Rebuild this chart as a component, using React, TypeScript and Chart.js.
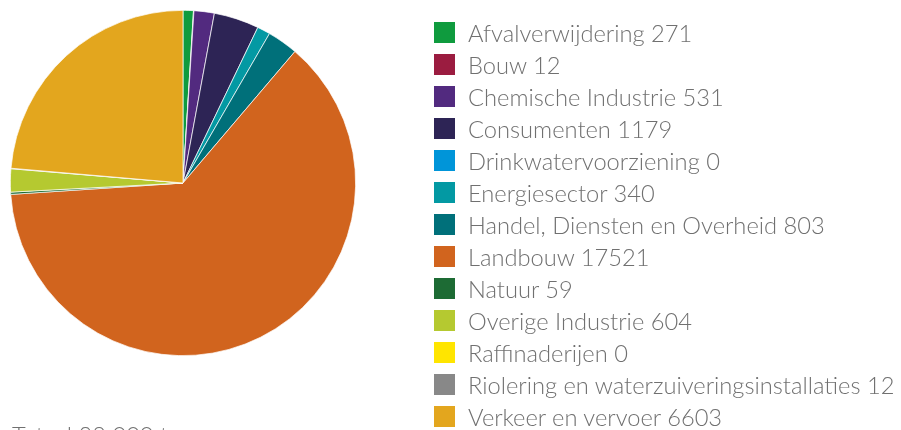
import React, { useEffect, useRef } from "react";
import { Chart, registerables } from "chart.js";

Chart.register(...registerables);

const categories = [
  "Afvalverwijdering",
  "Bouw",
  "Chemische Industrie",
  "Consumenten",
  "Drinkwatervoorziening",
  "Energiesector",
  "Handel, Diensten en Overheid",
  "Landbouw",
  "Natuur",
  "Overige Industrie",
  "Raffinaderijen",
  "Riolering en waterzuiveringsinstallaties",
  "Verkeer en vervoer",
];

const values = [271, 12, 531, 1179, 0, 340, 803, 17521, 59, 604, 0, 12, 6603];

const colors = [
  "#0f9b3e",
  "#9b1c40",
  "#522a7f",
  "#2d2455",
  "#0095d9",
  "#0399a3",
  "#00707a",
  "#d1641e",
  "#1d6b34",
  "#b5c930",
  "#ffe500",
  "#888888",
  "#e3a61e",
];

const totalLabel = "Totaal 28 000 ton";

const FONT = "Lato, 'Open Sans', sans-serif";
const TEXT_COLOR = "#707070";

export default function App() {
  const ref = useRef<HTMLCanvasElement | null>(null);

  useEffect(() => {
    document.body.style.margin = "0";
    const ctx = ref.current!.getContext("2d")!;
    const chart = new Chart(ctx, {
      type: "pie",
      data: {
        labels: categories,
        datasets: [
          {
            data: values,
            backgroundColor: colors,
            borderColor: "#ffffff",
            borderWidth: 0.7,
          },
        ],
      },
      options: {
        responsive: false,
        animation: false,
        layout: { padding: { left: 10, right: 901 - 356, top: 10, bottom: 430 - 356 } },
        plugins: {
          legend: { display: false },
          tooltip: { enabled: false },
        },
      },
    });
    return () => chart.destroy();
  }, []);

  return (
    <div style={{ position: "relative", width: 901, height: 430, overflow: "hidden", background: "#fff" }}>
      <canvas ref={ref} width={901} height={430} style={{ position: "absolute", left: 0, top: 0 }} />
      <div style={{ position: "absolute", left: 434, top: 16.5, fontFamily: FONT, fontSize: 23.7, fontWeight: 300, color: TEXT_COLOR }}>
        {categories.map((c, i) => (
          <div key={c} style={{ height: 32, display: "flex", alignItems: "center", whiteSpace: "nowrap" }}>
            <span style={{ width: 21, height: 21, background: colors[i], display: "inline-block", marginRight: 13, flexShrink: 0 }} />
            <span>{c + " " + values[i]}</span>
          </div>
        ))}
      </div>
      <div style={{ position: "absolute", left: 12, top: 421, fontFamily: FONT, fontSize: 23.7, fontWeight: 300, color: TEXT_COLOR, whiteSpace: "nowrap" }}>
        {totalLabel}
      </div>
    </div>
  );
}
